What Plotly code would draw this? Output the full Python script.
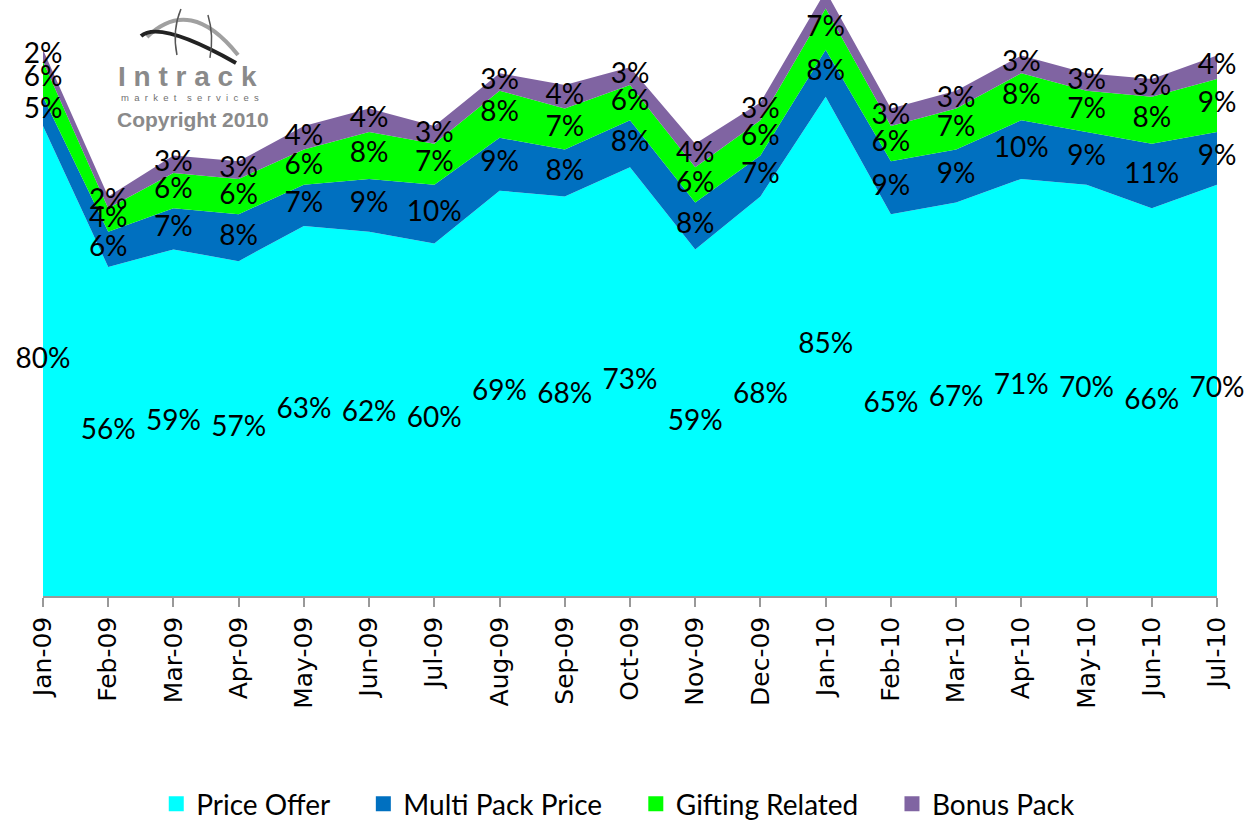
import plotly.graph_objects as go

months = ["Jan-09", "Feb-09", "Mar-09", "Apr-09", "May-09", "Jun-09", "Jul-09", "Aug-09",
          "Sep-09", "Oct-09", "Nov-09", "Dec-09", "Jan-10", "Feb-10", "Mar-10", "Apr-10",
          "May-10", "Jun-10", "Jul-10"]
price_offer = [80, 56, 59, 57, 63, 62, 60, 69, 68, 73, 59, 68, 85, 65, 67, 71, 70, 66, 70]
multi_pack = [5, 6, 7, 8, 7, 9, 10, 9, 8, 8, 8, 7, 8, 9, 9, 10, 9, 11, 9]
gifting = [6, 4, 6, 6, 6, 8, 7, 8, 7, 6, 6, 6, 7, 6, 7, 8, 7, 8, 9]
bonus = [2, 2, 3, 3, 4, 4, 3, 3, 4, 3, 4, 3, 3, 3, 3, 3, 3, 3, 4]

series = [
    ("Price Offer", price_offer, "#00FFFF"),
    ("Multi Pack Price", multi_pack, "#0070C0"),
    ("Gifting Related", gifting, "#00FF00"),
    ("Bonus Pack", bonus, "#8064A2"),
]

W, H = 1260, 820
L, R, T, B = 43, 43, 0, 224
x = list(range(len(months)))

fig = go.Figure()
base = [0] * len(months)
for name, vals, col in series:
    fig.add_trace(go.Scatter(x=x, y=vals, name=name, stackgroup="one", mode="none",
                             fillcolor=col, line=dict(width=0), showlegend=False,
                             hoverinfo="skip"))
    mids = [b + v / 2 for b, v in zip(base, vals)]
    fig.add_trace(go.Scatter(x=x, y=mids, mode="text", text=[f"{v}%" for v in vals],
                             textposition="middle center", cliponaxis=False,
                             textfont=dict(family="Lato", size=28, color="black"),
                             showlegend=False, hoverinfo="skip"))
    base = [b + v for b, v in zip(base, vals)]

pad = "\u00a0" * 4
for i, (name, vals, col) in enumerate(series):
    fig.add_trace(go.Scatter(x=[None], y=[None], mode="markers",
                             name=name + (pad if i < len(series) - 1 else ""),
                             marker=dict(symbol="square", size=15, color=col)))

plot_h = H - T - B
ymax = plot_h / 5.875


def px(xp):
    return (xp - L) / (W - L - R)


def py(yp):
    return (H - B - yp) / plot_h


def pth(pts):
    s = ""
    for cmd, coords in pts:
        s += cmd + " " + " ".join(f"{px(a):.4f},{py(b):.4f}" for a, b in coords) + " "
    return s


shapes = [
    dict(type="path", xref="paper", yref="paper",
         path=pth([("M", [(147, 37)]), ("Q", [(190, -5), (238, 55)])]),
         line=dict(color="#A0A0A0", width=4)),
    dict(type="path", xref="paper", yref="paper",
         path=pth([("M", [(141, 36)]), ("Q", [(160, 20), (236, 63)])]),
         line=dict(color="#222222", width=4)),
    dict(type="path", xref="paper", yref="paper",
         path=pth([("M", [(181, 9)]), ("Q", [(172, 30), (177, 55)])]),
         line=dict(color="#555555", width=1.5)),
    dict(type="path", xref="paper", yref="paper",
         path=pth([("M", [(208, 15)]), ("Q", [(214, 35), (210, 58)])]),
         line=dict(color="#555555", width=1.5)),
]

annotations = [
    dict(text="<b>I n t r a c k</b>", x=px(187), y=py(76), xref="paper", yref="paper",
         showarrow=False, font=dict(family="Liberation Sans", size=28, color="#8A8A8A"),
         xanchor="center", yanchor="middle"),
    dict(text="m  a  r  k  e  t    s  e  r  v  i  c  e  s", x=px(190), y=py(97),
         xref="paper", yref="paper",
         showarrow=False, font=dict(family="Liberation Sans", size=9.5, color="#707070"),
         xanchor="center", yanchor="middle"),
    dict(text="<b>Copyright 2010</b>", x=px(193), y=py(119), xref="paper", yref="paper",
         showarrow=False, font=dict(family="Liberation Sans", size=21, color="#8A8A8A"),
         xanchor="center", yanchor="middle"),
]

fig.update_layout(
    width=W, height=H,
    margin=dict(l=L, r=R, t=T, b=B, autoexpand=False),
    paper_bgcolor="white", plot_bgcolor="white",
    shapes=shapes, annotations=annotations,
    xaxis=dict(range=[0, len(months) - 1], tickvals=x, ticktext=months, tickangle=-90,
               showgrid=False, zeroline=False, showline=True, linecolor="#999999", linewidth=1.5,
               ticks="outside", ticklen=9, tickcolor="#999999", tickwidth=1.5, automargin=False,
               tickfont=dict(family="DejaVu Sans", size=25, color="black")),
    yaxis=dict(range=[0, ymax], visible=False, showgrid=False, zeroline=False),
    legend=dict(orientation="h", x=0.49, xanchor="center", y=py(804), yanchor="middle",
                traceorder="normal",
                font=dict(family="Lato", size=28, color="black"), itemwidth=30),
    showlegend=True,
)

fig.write_html("out.html", config={"displayModeBar": False},
               post_script="document.body.style.margin='0';")
